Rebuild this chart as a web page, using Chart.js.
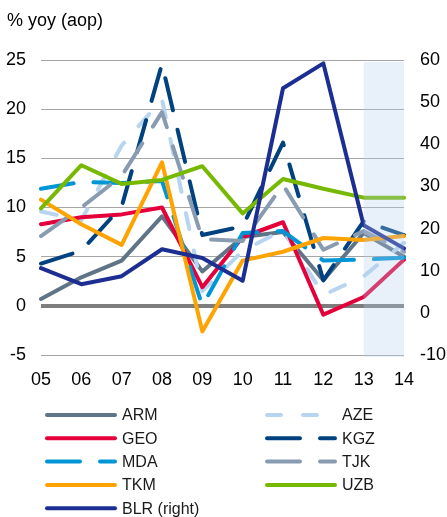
<!DOCTYPE html>
<html>
<head>
<meta charset="utf-8">
<script src="https://cdn.jsdelivr.net/npm/chart.js@4.4.1/dist/chart.umd.min.js"></script>
<style>
  html, body { margin: 0; padding: 0; background: #fff; }
  #wrap { width: 447px; height: 517px; }
</style>
</head>
<body>
<div id="wrap"><canvas id="inflChart" width="447" height="517"></canvas></div>
<script>
        // categories (years, 20xx)
        const years = ['05', '06', '07', '08', '09', '10', '11', '12', '13', '14'];

        // % yoy, annual average (left axis)
        const arm = [0.7, 2.9, 4.6, 9.1, 3.5, 7.0, 7.5, 2.6, 7.4, 5.0];
        const aze = [9.6, 8.7, 16.3, 21.0, 1.5, 5.6, 7.7, 1.1, 3.0, 6.4];
        const geo = [8.3, 9.0, 9.3, 10.0, 1.9, 7.0, 8.5, -0.9, 0.9, 4.7];
        const kgz = [4.3, 5.6, 10.1, 24.6, 7.2, 8.1, 16.6, 2.6, 8.6, 7.2];
        const mda = [11.9, 12.6, 12.5, 12.7, 0.0, 7.4, 7.6, 4.6, 4.7, 4.9];
        const tjk = [7.1, 10.0, 13.2, 19.7, 6.8, 6.6, 12.3, 5.7, 7.6, 5.5];
        const tkm = [10.8, 8.3, 6.2, 14.6, -2.6, 4.6, 5.5, 6.9, 6.7, 7.1];
        const uzb = [9.9, 14.3, 12.4, 12.8, 14.2, 9.4, 12.9, 11.9, 11.0, 11.0];
        // right axis
        const blr = [10.6, 6.8, 8.7, 15.1, 13.0, 7.6, 53.3, 59.2, 20.8, 15.3];

        const leftAxis = { min: -5, max: 25, step: 5 };
        const rightAxis = { min: -10, max: 60, step: 10 };
        const forecastYears = ['13', '14'];
        const titleText = '% yoy (aop)';

        const FONT = "'Liberation Sans', Arial, sans-serif";
        const longDash = [33, 20];
        const shortDash = [16, 22];

        const series = [
            { label: 'ARM', data: arm, color: '#5f7487', dash: [] },
            { label: 'AZE', data: aze, color: '#b7d4f0', dash: shortDash },
            { label: 'GEO', data: geo, color: '#e3003b', dash: [] },
            { label: 'KGZ', data: kgz, color: '#00427f', dash: longDash },
            { label: 'MDA', data: mda, color: '#0096d6', dash: longDash },
            { label: 'TJK', data: tjk, color: '#889bb0', dash: longDash },
            { label: 'TKM', data: tkm, color: '#ffa300', dash: [] },
            { label: 'UZB', data: uzb, color: '#76b900', dash: [] },
            { label: 'BLR (right)', data: blr, color: '#1d2e92', dash: [], axis: 'y1' }
        ];

        // later series sit on top, like the original
        const datasets = series.map((s, i) => ({
            label: s.label,
            data: s.data,
            yAxisID: s.axis || 'y',
            borderColor: s.color,
            backgroundColor: s.color,
            borderWidth: 4,
            borderDash: s.dash,
            borderCapStyle: 'round',
            borderJoinStyle: 'round',
            pointRadius: 0,
            tension: 0,
            fill: false,
            order: series.length - i
        }));

        // shaded forecast band, drawn over the lines (semi transparent)
        const forecastBand = {
            id: 'forecastBand',
            afterDatasetsDraw(chart) {
                const { ctx, chartArea, scales } = chart;
                const x0 = scales.x.getPixelForValue(years.indexOf(forecastYears[0]));
                const x1 = scales.x.getPixelForValue(years.indexOf(forecastYears[1]));
                ctx.save();
                ctx.fillStyle = 'rgba(180, 205, 234, 0.30)';
                ctx.fillRect(x0, chartArea.top + 2, x1 - x0, chartArea.bottom - chartArea.top);
                ctx.restore();
            }
        };

        // title + two column legend like the Excel original
        const titleAndLegend = {
            id: 'titleAndLegend',
            afterDraw(chart) {
                const ctx = chart.ctx;
                ctx.save();
                ctx.fillStyle = '#000';
                ctx.font = '18px ' + FONT;
                ctx.textBaseline = 'middle';
                ctx.textAlign = 'left';
                ctx.fillText(titleText, 7, 21);

                ctx.font = '16px ' + FONT;
                chart.data.datasets.forEach((ds, i) => {
                    const col = i % 2;
                    const row = Math.floor(i / 2);
                    const lx = col ? 265 : 45;
                    const ly = 415 + row * 23.3;
                    ctx.beginPath();
                    ctx.strokeStyle = ds.borderColor;
                    ctx.lineWidth = 4;
                    ctx.lineCap = 'round';
                    ctx.setLineDash(ds.borderDash === shortDash ? [14, 22] : ds.borderDash);
                    ctx.moveTo(lx + 2, ly);
                    ctx.lineTo(lx + 70, ly);
                    ctx.stroke();
                    ctx.setLineDash([]);
                    ctx.fillStyle = '#1a1a1a';
                    ctx.fillText(ds.label, lx + 77, ly + 1);
                });
                ctx.restore();
            }
        };

        const canvas = document.getElementById('inflChart');
        const chart = new Chart(canvas.getContext('2d'), {
            type: 'line',
            data: { labels: years, datasets: datasets },
            options: {
                responsive: false,
                animation: false,
                devicePixelRatio: 1,
                layout: { padding: { top: 60, bottom: 122, left: 0, right: 0 } },
                plugins: {
                    legend: { display: false },
                    tooltip: { enabled: false },
                    title: { display: false }
                },
                scales: {
                    x: {
                        offset: false,
                        grid: { display: false, drawTicks: false },
                        border: { display: false },
                        ticks: {
                            color: '#000',
                            font: { family: FONT, size: 18 },
                            padding: 14,
                            autoSkip: false,
                            maxRotation: 0
                        },
                        afterFit(scale) { scale.height = 40; }
                    },
                    y: {
                        position: 'left',
                        min: leftAxis.min,
                        max: leftAxis.max,
                        border: { display: false },
                        grid: {
                            drawTicks: false,
                            color: (c) => c.tick && c.tick.value === 0 ? '#7d7d7d' : '#a6a6a6',
                            lineWidth: (c) => c.tick && c.tick.value === 0 ? 4 : 1
                        },
                        ticks: {
                            stepSize: leftAxis.step,
                            color: '#000',
                            font: { family: FONT, size: 18 },
                            padding: 15
                        },
                        afterFit(scale) { scale.width = 41; }
                    },
                    y1: {
                        position: 'right',
                        min: rightAxis.min,
                        max: rightAxis.max,
                        border: { display: false },
                        grid: { display: false, drawTicks: false },
                        ticks: {
                            stepSize: rightAxis.step,
                            color: '#000',
                            font: { family: FONT, size: 18 },
                            padding: 16
                        },
                        afterFit(scale) { scale.width = 43; }
                    }
                }
            },
            plugins: [forecastBand, titleAndLegend]
        });
</script>
</body>
</html>
